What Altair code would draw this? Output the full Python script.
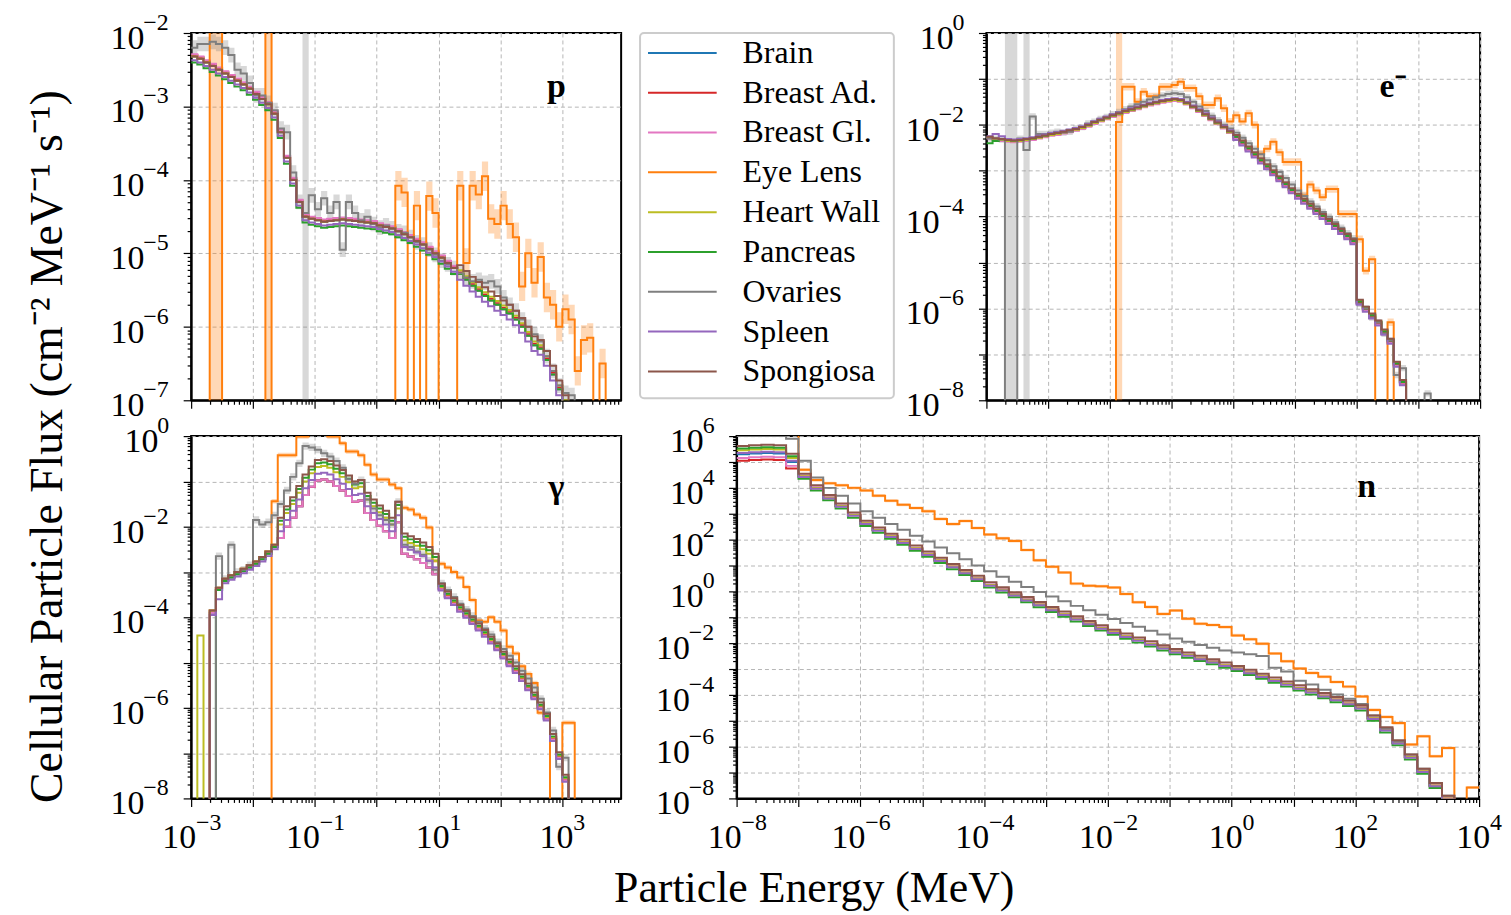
import altair as alt
import pandas as pd

FONT = "Liberation Serif"
N = None  # empty (zero-flux) bin

TISSUES = ["Brain", "Breast Ad.", "Breast Gl.", "Eye Lens", "Heart Wall",
           "Pancreas", "Ovaries", "Spleen", "Spongiosa"]
COLORS = ["#1f77b4", "#d62728", "#e377c2", "#ff7f0e", "#bcbd22",
          "#2ca02c", "#7f7f7f", "#9467bd", "#8c564b"]

# ---------------- protons (log10 flux per 0.1-decade bin, first edge 1e-3 MeV)
P_START, P_STEP = -3.0, 0.1
P_BASE = [-2.32, -2.35, -2.40, -2.45, -2.50, -2.55, -2.60, -2.65, -2.70, -2.76,
          -2.83, -2.90, -2.97, -3.10, -3.35, -3.70, -4.00, -4.30, -4.50, -4.53,
          -4.55, -4.57, -4.56, -4.55, -4.54, -4.55, -4.56, -4.57, -4.58, -4.59,
          -4.62, -4.64, -4.66, -4.70, -4.74, -4.78, -4.83, -4.88, -4.94, -5.00,
          -5.06, -5.13, -5.20, -5.28, -5.36, -5.44, -5.51, -5.58, -5.64, -5.70,
          -5.76, -5.82, -5.90, -6.00, -6.12, -6.25, -6.30, -6.45, -6.65, -6.85,
          -7.05, N]
P_OVARIES = [-2.20, -2.15, -2.15, -2.12, -2.15, -2.20, -2.30, -2.50, -2.55, -2.68,
             -2.85, -2.85, -2.95, -3.05, -3.30, -3.35, -3.90, -4.30, -4.45, -4.21,
             -4.40, -4.25, -4.45, -4.30, -4.95, -4.30, -4.45, -4.55, -4.50, -4.60,
             -4.65, -4.62, -4.66, -4.70, -4.72, -4.78, -4.85, -4.88, -4.95, -5.02,
             -5.10, -5.15, -5.20, -5.27, -5.33, -5.38, -5.36, -5.40, -5.38, -5.45,
             -5.60, -5.70, -5.78, -5.90, -6.00, -6.10, -6.20, -6.40, -6.60, -6.80,
             -6.90, -6.93, N]
P_EYE = [N, N, N, -1.5, -1.5, N, N, N, N, N,
         N, N, -1.5, N, N, N, N, N, N, N,
         N, N, N, N, N, N, N, N, N, N,
         N, N, N, -4.08, -4.17, N, -4.35, N, -4.22, -4.45,
         N, N, N, -4.08, -5.13, -4.08, -4.20, -3.95, -4.53, -4.60,
         -4.35, -4.60, -4.78, -5.45, -5.00, -5.40, -5.05, -5.60, -5.70, -6.00,
         -5.76, -5.90, -6.60, -6.18, -6.15, N, -6.50, N]
P_SEG = [0, 43]
P_OFF = {"Brain": [0.0, 0.0], "Breast Ad.": [0.02, 0.02], "Breast Gl.": [0.03, 0.0],
         "Heart Wall": [0.0, 0.05], "Pancreas": [-0.08, 0.0], "Spleen": [-0.05, -0.08],
         "Spongiosa": [0.0, 0.12]}
P_OVERRIDE = {}
# uncertainty band half-widths (decades) and bins whose band fills the panel height
P_BANDS = {"Eye Lens": (0.20, [3, 4, 12]), "Ovaries": (0.10, [18])}
P_XLAB, P_YLAB = [], [-7, -6, -5, -4, -3, -2]

# ---------------- electrons (0.1-decade bins, first edge 1e-4 MeV)
E_START, E_STEP = -4.0, 0.1
E_BASE = [-2.28, -2.31, -2.33, -2.35, -2.36, -2.35, -2.33, -2.31, -2.28, -2.25,
          -2.22, -2.20, -2.17, -2.14, -2.11, -2.07, -2.02, -1.96, -1.91, -1.86,
          -1.81, -1.77, -1.72, -1.68, -1.64, -1.60, -1.56, -1.53, -1.50, -1.48,
          -1.46, -1.48, -1.54, -1.62, -1.70, -1.79, -1.88, -1.97, -2.06, -2.16,
          -2.26, -2.38, -2.51, -2.64, -2.77, -2.90, -3.03, -3.16, -3.29, -3.42,
          -3.54, -3.65, -3.76, -3.87, -3.98, -4.09, -4.20, -4.31, -4.42, -4.53,
          -5.85, -6.00, -6.15, -6.30, -6.50, -6.70, -7.20, -7.60, N]
E_OVARIES = [-2.30, -2.30, -2.32, N, N, -2.30, -2.55, -1.82, -2.20, -2.20,
             -2.17, -2.15, -2.17, -2.15, -2.08, -2.05, -1.97, -1.93, -1.87, -1.83,
             -1.77, -1.72, -1.66, -1.60, -1.55, -1.50, -1.45, -1.40, -1.36, -1.33,
             -1.31, -1.33, -1.40, -1.50, -1.60, -1.70, -1.80, -1.90, -2.00, -2.08,
             -2.17, -2.28, -2.40, -2.52, -2.64, -2.77, -2.90, -3.03, -3.16, -3.30,
             -3.43, -3.55, -3.67, -3.78, -3.90, -4.00, -4.12, -4.24, -4.36, -4.47,
             -5.90, -6.00, -6.20, -6.30, -6.55, -6.70, -7.45, -7.30, N, N,
             N, -7.85, N]
E_EYE = [N, N, N, N, N, N, N, N, N, N,
         N, N, N, N, N, N, N, N, N, N,
         N, -1.94, -1.17, -1.17, -1.50, -1.28, -1.38, -1.38, -1.17, -1.17,
         -1.13, -1.06, -1.20, -1.20, -1.38, -1.57, -1.57, -1.42, -1.64, -1.93,
         -1.79, -1.93, -1.75, -2.00, -2.63, -2.52, -2.37, -2.60, -2.81, -2.81,
         -2.81, -3.54, -3.30, -3.43, -3.58, -3.40, -3.40, -3.94, -3.94, -3.94,
         -4.49, -5.18, -4.93, N, N, -6.30, N]
E_SEG = [0, 40]
E_OFF = {"Brain": [0.0, 0.0], "Breast Ad.": [0.0, -0.03], "Breast Gl.": [-0.02, -0.05],
         "Heart Wall": [0.0, 0.02], "Pancreas": [0.02, 0.0], "Spleen": [0.04, -0.07],
         "Spongiosa": [0.02, 0.04]}
E_OVERRIDE = {"Spleen": {0: -2.25, 1: -2.2, 2: -2.25}, "Pancreas": {0: -2.4, 1: -2.35}}
E_BANDS = {"Eye Lens": (0.08, [21]), "Ovaries": (0.07, [3, 4, 6])}
E_XLAB, E_YLAB = [], [-8, -6, -4, -2, 0]

# ---------------- photons (0.1-decade bins, first edge 1e-3 MeV)
G_START, G_STEP = -3.0, 0.1
G_BASE = [N, N, N, -3.90, -3.40, -3.20, -3.12, -3.05, -2.98, -2.90,
          -2.82, -2.72, -2.60, -2.45, -2.25, -2.00, -1.80, -1.55, -1.30, -1.12,
          -0.98, -0.96, -1.00, -1.10, -1.20, -1.32, -1.45, -1.42, -1.70, -1.85,
          -1.98, -2.10, -2.25, -1.90, -2.60, -2.66, -2.72, -2.80, -2.90, -3.05,
          -3.38, -3.55, -3.70, -3.85, -3.98, -4.12, -4.26, -4.40, -4.55, -4.70,
          -4.88, -5.05, -5.20, -5.38, -5.58, -5.78, -6.00, -6.25, -6.70, -7.10,
          -7.60, N]
G_OVARIES = [N, N, N, N, -2.65, -3.15, -2.40, -3.00, -2.95, -2.85,
             -1.85, -1.95, -1.90, -1.75, -1.50, -1.20, -0.90, -0.60, -0.22, -0.25,
             -0.30, -0.38, -0.45, -0.55, -0.70, -0.95, -1.05, -0.97, -1.40, -1.60,
             -1.75, -1.85, -1.95, -1.45, -2.40, -2.45, -2.55, -2.62, -2.75, -2.95,
             -3.25, -3.40, -3.55, -3.70, -3.83, -3.97, -4.10, -4.25, -4.38, -4.55,
             -4.70, -4.85, -5.00, -5.18, -5.35, -5.55, -5.80, -6.10, -6.50, -7.30,
             -7.10, N]
G_EYE = [N, N, N, N, N, N, N, N, N, N,
         N, N, N, -1.44, -0.42, -0.42, -0.42, -0.01, -0.01, 0.10,
         0.10, 0.10, -0.01, -0.01, -0.16, -0.34, -0.34, -0.42, -0.63, -0.85,
         -0.96, -0.96, -1.07, -1.15, -1.58, -1.62, -1.73, -1.80, -2.02, -2.75,
         -2.82, -2.90, -3.00, -3.12, -3.33, -3.62, -4.07, -4.10, -4.00, -4.10,
         -4.29, -4.65, -4.80, -5.08, -5.25, -5.45, -6.11, -6.18, N, N,
         -6.33, -6.33, N]
G_SEG = [0, 14, 40]
G_OFF = {"Brain": [0.0, 0.0, 0.0], "Breast Ad.": [0.05, 0.0, 0.02],
         "Breast Gl.": [0.0, 0.0, 0.0], "Heart Wall": [0.05, 0.30, 0.05],
         "Pancreas": [0.0, 0.38, 0.07], "Spleen": [-0.05, 0.15, -0.03],
         "Spongiosa": [0.05, 0.45, 0.12]}
G_OVERRIDE = {"Heart Wall": {1: -4.4}, "Pancreas": {3: None}, "Spleen": {4: -3.6}}
G_BANDS = {"Eye Lens": (0.05, []), "Ovaries": (0.08, [])}
G_XLAB, G_YLAB = [-3, -1, 1, 3], [-8, -6, -4, -2, 0]

# ---------------- neutrons (0.2-decade bins, first edge 1e-8 MeV)
N_START, N_STEP = -8.0, 0.2
N_BASE = [5.30, 5.33, 5.35, 5.33, 5.00, 4.45, 4.00, 3.62, 3.30, 2.95,
          2.63, 2.37, 2.13, 1.90, 1.67, 1.44, 1.20, 0.96, 0.73, 0.50,
          0.25, 0.06, -0.13, -0.32, -0.51, -0.70, -0.88, -1.06, -1.24, -1.41,
          -1.58, -1.73, -1.88, -2.03, -2.18, -2.33, -2.46, -2.59, -2.72, -2.85,
          -2.98, -3.13, -3.28, -3.43, -3.58, -3.73, -3.88, -4.03, -4.18, -4.33,
          -4.50, -4.90, -5.35, -5.85, -6.40, -6.95, -7.50, -8.00, N, N]
N_OVARIES = [6.00, 6.00, 6.00, 6.00, 5.90, 5.05, 4.40, 4.00, 3.70, 3.40,
             3.10, 2.85, 2.60, 2.38, 2.15, 1.93, 1.70, 1.47, 1.24, 1.00,
             0.78, 0.57, 0.37, 0.17, -0.02, -0.20, -0.38, -0.56, -0.73, -0.90,
             -1.07, -1.22, -1.37, -1.52, -1.67, -1.82, -1.95, -2.07, -2.18, -2.28,
             -2.36, -2.43, -2.50, -2.95, -3.10, -3.45, -3.60, -3.80, -3.98, -4.15,
             -4.35, -4.80, -5.30, -5.80, -6.30, -6.85, -7.40, -7.90, N, N]
N_EYE = [6.10, 6.10, 6.10, 6.10, 6.10, 4.70, 4.30, 4.18, 4.10, 4.00,
         3.90, 3.70, 3.50, 3.35, 3.22, 3.10, 2.80, 2.60, 2.72, 2.45,
         2.20, 2.05, 1.95, 1.60, 1.20, 0.95, 0.73, 0.30, 0.22, 0.20,
         0.15, -0.10, -0.42, -0.60, -0.87, -0.74, -1.06, -1.25, -1.30, -1.38,
         -1.70, -1.85, -2.02, -2.40, -2.70, -2.98, -3.15, -3.30, -3.50, -3.68,
         -4.06, -4.58, -4.85, -5.09, -5.92, -5.60, -6.37, -6.05, N, -7.58]
N_SEG = [0, 5]
N_OFF = {"Brain": [0.0, 0.0], "Breast Ad.": [-0.25, 0.0], "Breast Gl.": [-0.15, 0.02],
         "Heart Wall": [0.15, 0.0], "Pancreas": [0.22, -0.10], "Spleen": [0.05, -0.03],
         "Spongiosa": [0.32, 0.10]}
N_OVERRIDE = {}
N_BANDS = {"Eye Lens": (0.06, []), "Ovaries": (0.02, [])}
N_XLAB, N_YLAB = [-8, -6, -4, -2, 0, 2, 4], [-8, -6, -4, -2, 0, 2, 4, 6]

MINUS = "\u2212"


def exp_text(e):
    return (MINUS if e < 0 else "") + str(abs(e))


def tissue_values(base, seg, off, override):
    out = []
    for k, v in enumerate(base):
        if k in override:
            out.append(override[k])
            continue
        if v is None:
            out.append(None)
            continue
        i = max(j for j, s in enumerate(seg) if k >= s)
        out.append(v + off[i])
    return out


def step_frame(start, step, arr):
    rows = []
    for k, v in enumerate(arr):
        rows.append({"E": 10 ** (start + step * k), "F": 1e-30 if v is None else 10 ** v})
    rows.append({"E": 10 ** (start + step * len(arr)), "F": rows[-1]["F"]})
    return pd.DataFrame(rows)


def band_frame(start, step, arr, err, full):
    rows = []
    for k, v in enumerate(arr):
        if k in full:
            lo, hi = 1e-30, 1e30
        elif v is None:
            lo, hi = 1e-30, 1e-30
        else:
            lo, hi = 10 ** (v - err), 10 ** (v + err)
        rows.append({"E": 10 ** (start + step * k), "lo": lo, "hi": hi})
    rows.append({"E": 10 ** (start + step * len(arr)), "lo": rows[-1]["lo"],
                 "hi": rows[-1]["hi"]})
    return pd.DataFrame(rows)


def make_axis(lo, hi):
    majors = [10.0 ** e for e in range(lo, hi + 1)]
    minors = [m * 10.0 ** e for e in range(lo, hi + 1) for m in range(2, 10)
              if m * 10.0 ** e < 10.0 ** (hi + 1)]
    values = sorted(set(majors + minors))
    ex = "round(log(datum.value)/LN10)"
    test = f"abs(log(datum.value)/LN10 - {ex}) < 0.001"
    return alt.Axis(values=values, labels=False, title=None,
                    grid=True, gridDash=[4, 3], gridColor="#b5b5b5", gridWidth=1,
                    gridOpacity={"condition": {"test": test, "value": 1}, "value": 0},
                    tickSize={"condition": {"test": test, "value": 8}, "value": 4},
                    tickColor="black", tickWidth=1.2, domainColor="black", domainWidth=2)


def panel(start, step, base, eye, ova, seg, offs, override, bands, xd, yd,
          xlab, ylab, width, height, label, lpos):
    xscale = alt.Scale(type="log", domain=[10 ** xd[0], 10 ** xd[1]], nice=False)
    yscale = alt.Scale(type="log", domain=[10 ** yd[0], 10 ** yd[1]], nice=False)
    xaxis = make_axis(int(xd[0]), int(round(xd[1])))
    yaxis = make_axis(int(yd[0]), int(yd[1]))
    arrays = {}
    for t in TISSUES:
        if t == "Eye Lens":
            arrays[t] = eye
        elif t == "Ovaries":
            arrays[t] = ova
        else:
            arrays[t] = tissue_values(base, seg, offs[t], override.get(t, {}))
    layers = []
    for t, c in zip(TISSUES, COLORS):
        if t in bands:
            err, full = bands[t]
            bdf = band_frame(start, step, arrays[t], err, full)
            layers.append(
                alt.Chart(bdf).mark_area(interpolate="step-after", clip=True,
                                         color=c, opacity=0.3)
                .encode(x=alt.X("E:Q", scale=xscale, axis=xaxis),
                        y=alt.Y("lo:Q", scale=yscale, axis=yaxis), y2="hi:Q")
            )
    for t, c in zip(TISSUES, COLORS):
        df = step_frame(start, step, arrays[t])
        layers.append(
            alt.Chart(df).mark_line(interpolate="step-after", clip=True, strokeWidth=2,
                                    color=c)
            .encode(x=alt.X("E:Q", scale=xscale, axis=xaxis),
                    y=alt.Y("F:Q", scale=yscale, axis=yaxis))
        )
    # tick labels: "10" plus a raised exponent
    for neg in (True, False):
        ys = [e for e in ylab if (e < 0) == neg]
        if ys:
            df = pd.DataFrame({"F": [10.0 ** e for e in ys], "b": ["10"] * len(ys),
                               "s": [exp_text(e) for e in ys]})
            xr = -48 if neg else -34
            layers.append(alt.Chart(df).mark_text(
                font=FONT, fontSize=34, align="right", baseline="middle", dy=6,
                color="black").encode(x=alt.value(xr + 1),
                                      y=alt.Y("F:Q", scale=yscale, axis=yaxis),
                                      text="b:N"))
            layers.append(alt.Chart(df).mark_text(
                font=FONT, fontSize=24, align="left", baseline="middle", dy=-10,
                color="black").encode(x=alt.value(xr),
                                      y=alt.Y("F:Q", scale=yscale, axis=yaxis),
                                      text="s:N"))
        xs = [e for e in xlab if (e < 0) == neg]
        if xs:
            df = pd.DataFrame({"E": [10.0 ** e for e in xs], "b": ["10"] * len(xs),
                               "s": [exp_text(e) for e in xs]})
            dx = 5 if neg else 11
            layers.append(alt.Chart(df).mark_text(
                font=FONT, fontSize=34, align="right", baseline="middle", dx=dx,
                color="black").encode(x=alt.X("E:Q", scale=xscale, axis=xaxis),
                                      y=alt.value(height + 40), text="b:N"))
            layers.append(alt.Chart(df).mark_text(
                font=FONT, fontSize=24, align="left", baseline="middle", dx=dx,
                color="black").encode(x=alt.X("E:Q", scale=xscale, axis=xaxis),
                                      y=alt.value(height + 25), text="s:N"))
    lab = alt.Chart(pd.DataFrame({"t": [label]})).mark_text(
        font=FONT, fontSize=34, fontWeight="bold", color="black",
        align="center", baseline="middle"
    ).encode(x=alt.value(lpos[0]), y=alt.value(lpos[1]), text="t:N")
    layers.append(lab)
    return alt.layer(*layers).properties(
        width=width, height=height,
        view=alt.ViewBackground(stroke="black", strokeWidth=2))


p_chart = panel(P_START, P_STEP, P_BASE, P_EYE, P_OVARIES, P_SEG, P_OFF, P_OVERRIDE,
                P_BANDS, (-3, 3.95), (-7, -2), P_XLAB, P_YLAB, 432, 369, "p", (367, 54))
e_chart = panel(E_START, E_STEP, E_BASE, E_EYE, E_OVARIES, E_SEG, E_OFF, E_OVERRIDE,
                E_BANDS, (-4, 4), (-8, 0), E_XLAB, E_YLAB, 496, 369, "e⁻", (408, 54))
g_chart = panel(G_START, G_STEP, G_BASE, G_EYE, G_OVARIES, G_SEG, G_OFF, G_OVERRIDE,
                G_BANDS, (-3, 3.95), (-8, 0), G_XLAB, G_YLAB, 432, 364, "γ", (367, 52))
n_chart = panel(N_START, N_STEP, N_BASE, N_EYE, N_OVARIES, N_SEG, N_OFF, N_OVERRIDE,
                N_BANDS, (-8, 4), (-8, 6), N_XLAB, N_YLAB, 746, 364, "n", (633, 51))

# ---------------- legend panel
leg_df = pd.DataFrame({"tissue": TISSUES})
yleg = alt.Y("tissue:N", sort=TISSUES, axis=None,
             scale=alt.Scale(type="point", domain=TISSUES, range=[20, 340], padding=0))
cleg = alt.Color("tissue:N", scale=alt.Scale(domain=TISSUES, range=COLORS), legend=None)
leg_box = alt.Chart(pd.DataFrame({"a": [0]})).mark_rect(
    fill="white", stroke="#cccccc", strokeWidth=2, cornerRadius=4
).encode(x=alt.value(8), x2=alt.value(263), y=alt.value(0), y2=alt.value(367))
leg_lines = alt.Chart(leg_df).mark_rule(strokeWidth=2).encode(
    x=alt.value(16), x2=alt.value(85), y=yleg, color=cleg)
leg_text = alt.Chart(leg_df).mark_text(
    font=FONT, fontSize=32, align="left", baseline="middle", color="black"
).encode(x=alt.value(111), y=yleg, text="tissue:N")
legend = alt.layer(leg_box, leg_lines, leg_text).properties(
    width=263, height=367, view=alt.ViewBackground(stroke=None))

xtitle = alt.TitleParams("Particle Energy (MeV)", orient="bottom", anchor="middle",
                         font=FONT, fontSize=44, fontWeight="normal", color="black",
                         offset=11, dx=8)
ytitle = alt.TitleParams("Cellular Particle Flux (cm⁻² MeV⁻¹ s⁻¹)", orient="left",
                         anchor="middle", font=FONT, fontSize=46, fontWeight="normal",
                         color="black", offset=38, dx=14)

row1 = alt.hconcat(p_chart, legend, e_chart, spacing=10)
row2 = alt.hconcat(g_chart, n_chart, spacing=33, title=xtitle)
chart = alt.vconcat(row1, row2, spacing=-11, title=ytitle).properties(
    padding={"left": 16, "top": 0, "right": 0, "bottom": 0}
).configure(background="white").configure_view(stroke="black")

chart.save("out.html", embed_options={"renderer": "svg", "actions": False})
